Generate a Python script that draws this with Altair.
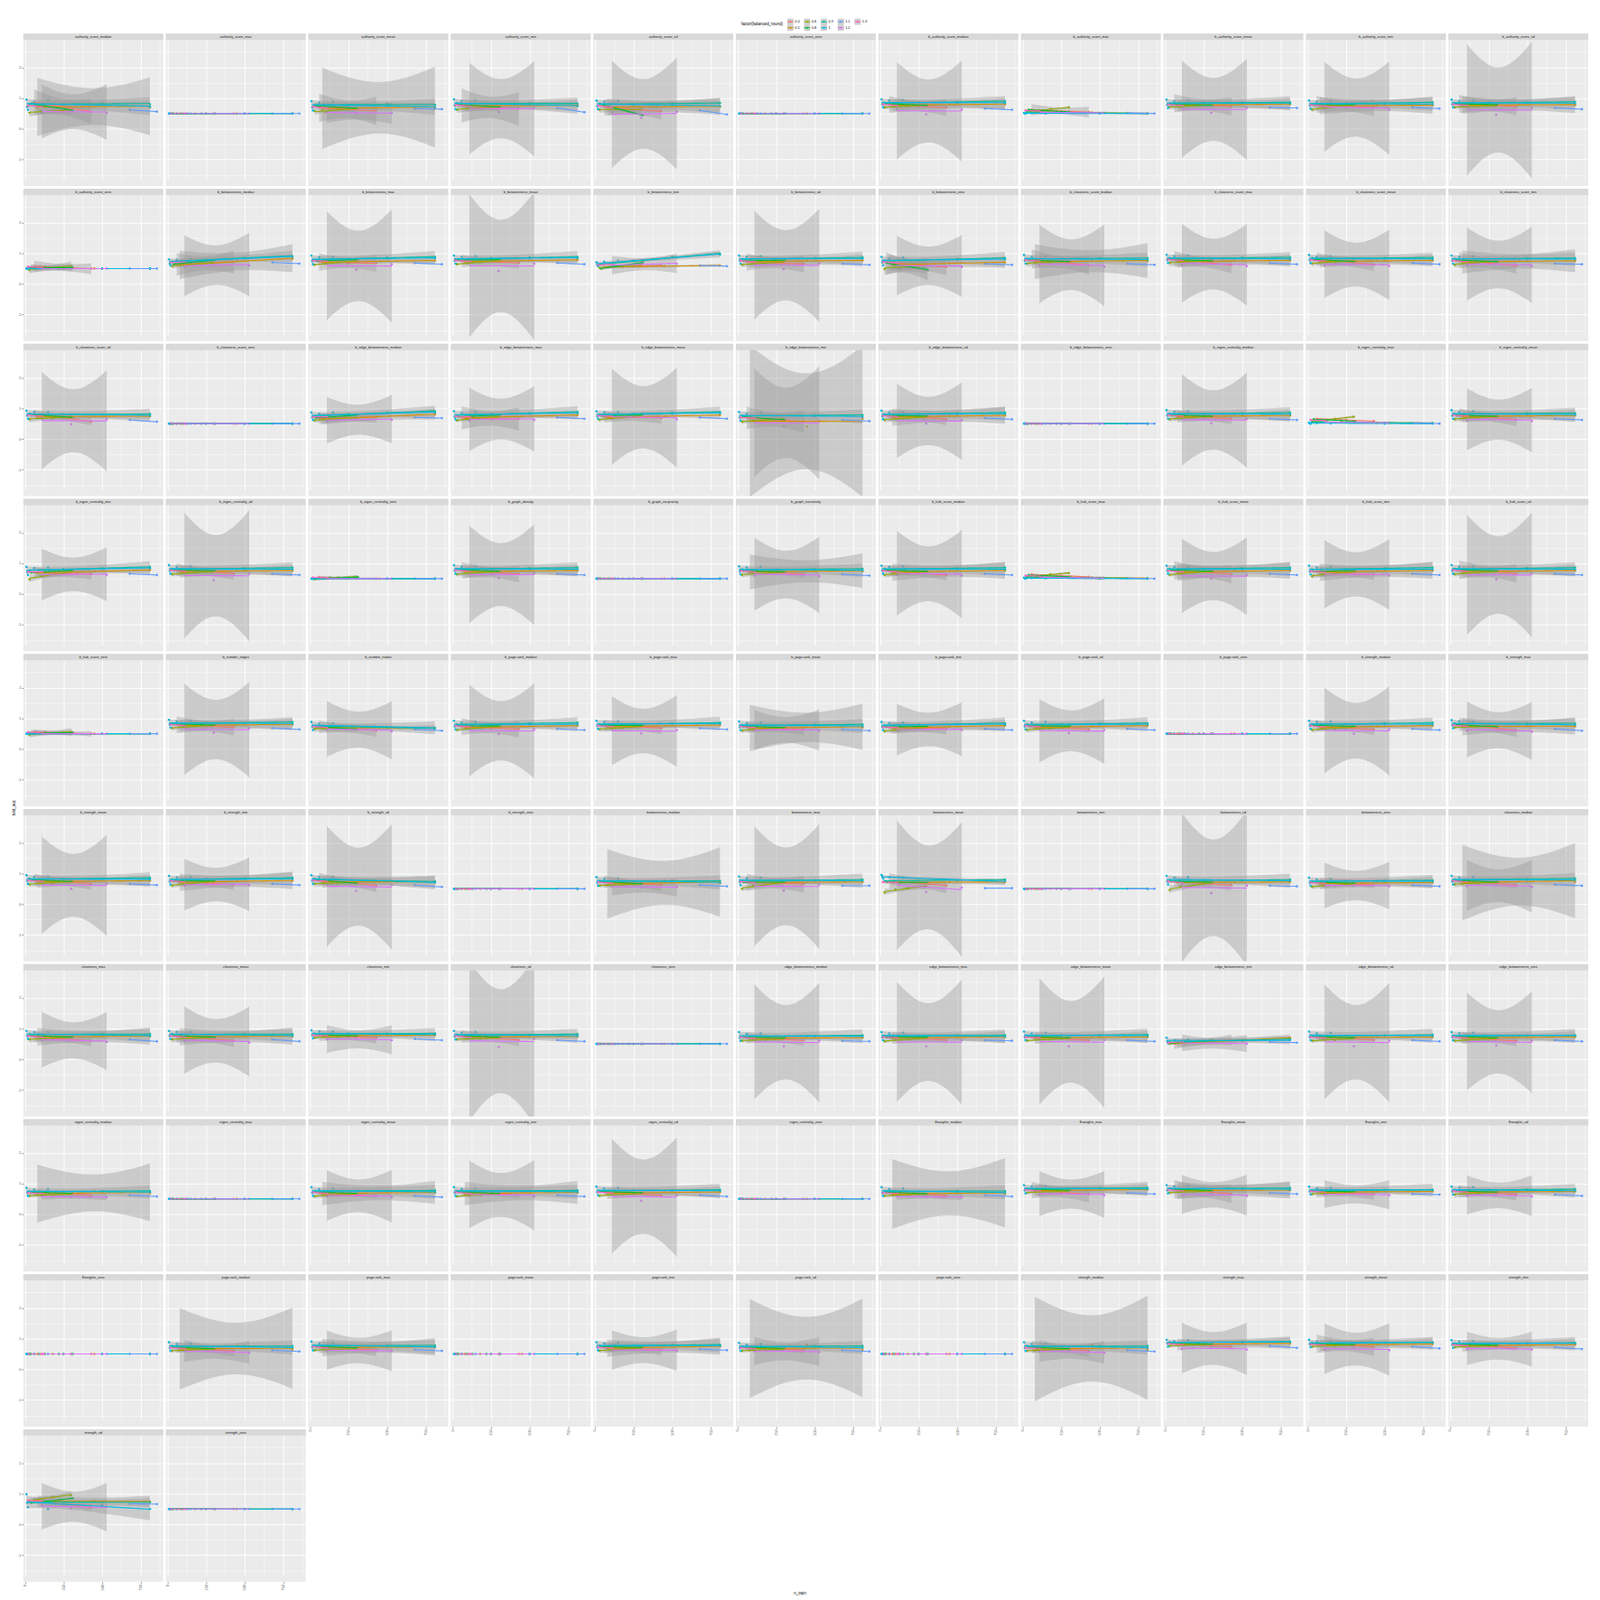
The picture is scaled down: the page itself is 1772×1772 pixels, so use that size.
import altair as alt
import numpy as np
import pandas as pd

alt.data_transformers.disable_max_rows()

# facet panels, in facet_wrap order (11 per row)
FEATURES = [
    "authority_score_median", "authority_score_max", "authority_score_mean", "authority_score_min",
    "authority_score_sd", "authority_score_zero", "b_authority_score_median", "b_authority_score_max",
    "b_authority_score_mean", "b_authority_score_min", "b_authority_score_sd",
    "b_authority_score_zero", "b_betweenness_median", "b_betweenness_max", "b_betweenness_mean",
    "b_betweenness_min", "b_betweenness_sd", "b_betweenness_zero", "b_closeness_score_median",
    "b_closeness_score_max", "b_closeness_score_mean", "b_closeness_score_min",
    "b_closeness_score_sd", "b_closeness_score_zero", "b_edge_betweenness_median",
    "b_edge_betweenness_max", "b_edge_betweenness_mean", "b_edge_betweenness_min",
    "b_edge_betweenness_sd", "b_edge_betweenness_zero", "b_eigen_centrality_median",
    "b_eigen_centrality_max", "b_eigen_centrality_mean",
    "b_eigen_centrality_min", "b_eigen_centrality_sd", "b_eigen_centrality_zero", "b_graph_density",
    "b_graph_reciprocity", "b_graph_transitivity", "b_hub_score_median", "b_hub_score_max",
    "b_hub_score_mean", "b_hub_score_min", "b_hub_score_sd",
    "b_hub_score_zero", "b_number_edges", "b_number_nodes", "b_page.rank_median", "b_page.rank_max",
    "b_page.rank_mean", "b_page.rank_min", "b_page.rank_sd", "b_page.rank_zero", "b_strength_median",
    "b_strength_max",
    "b_strength_mean", "b_strength_min", "b_strength_sd", "b_strength_zero", "betweenness_median",
    "betweenness_max", "betweenness_mean", "betweenness_min", "betweenness_sd", "betweenness_zero",
    "closeness_median",
    "closeness_max", "closeness_mean", "closeness_min", "closeness_sd", "closeness_zero",
    "edge_betweenness_median", "edge_betweenness_max", "edge_betweenness_mean", "edge_betweenness_min",
    "edge_betweenness_sd", "edge_betweenness_zero",
    "eigen_centrality_median", "eigen_centrality_max", "eigen_centrality_mean", "eigen_centrality_min",
    "eigen_centrality_sd", "eigen_centrality_zero", "Eweights_median", "Eweights_max", "Eweights_mean",
    "Eweights_min", "Eweights_sd",
    "Eweights_zero", "page.rank_median", "page.rank_max", "page.rank_mean", "page.rank_min",
    "page.rank_sd", "page.rank_zero", "strength_median", "strength_max", "strength_mean",
    "strength_min",
    "strength_sd", "strength_zero",
]

ROUNDS = ["0.4", "0.5", "0.6", "0.8", "0.9", "1", "1.1", "1.2", "1.3"]
COLOURS = ["#F8766D", "#D39200", "#93AA00", "#00BA38", "#00C19F", "#00B9E3", "#619CFF", "#DB72FB", "#FF61C3"]

# n_train of each balanced_round group (same in every panel)
N_04 = [60, 250, 430]
N_05 = [80, 450, 810]
N_06 = [30, 100, 180, 300]
N_08 = [40, 130, 220, 310]
N_09 = [30, 90, 250, 500, 810]
N_10 = [10, 15, 20, 60, 150, 500, 810]
N_11 = [680, 855]
N_12 = [110, 300, 530]
N_13 = [20, 120]

# test_auc x 100, one entry per panel (rows of the facet grid)
AUC_04 = [
    [85, 74, 55], [50, 50, 50], [70, 60, 60], [78, 66, 66], [72, 62, 58], [50, 50, 50], [80, 72, 70], [63, 57, 55], [82, 80, 72], [80, 72, 70], [80, 79, 72],
    [58, 52, 50], [62, 70, 70], [72, 67, 68], [74, 73, 68], [55, 58, 60], [72, 66, 66], [70, 60, 56], [80, 73, 60], [82, 69, 62], [80, 73, 62], [78, 66, 60],
    [82, 70, 56], [50, 50, 50], [66, 70, 70], [70, 64, 66], [72, 72, 68], [70, 60, 58], [76, 72, 64], [50, 50, 50], [78, 70, 66], [66, 62, 58], [78, 72, 62],
    [70, 66, 66], [78, 74, 66], [55, 52, 50], [78, 69, 66], [50, 50, 50], [74, 70, 64], [76, 67, 62], [64, 60, 56], [76, 73, 64], [74, 67, 64], [78, 75, 66],
    [56, 52, 50], [80, 73, 72], [72, 68, 60], [74, 67, 66], [76, 74, 68], [72, 66, 64], [70, 70, 66], [74, 70, 64], [50, 50, 50], [76, 68, 64], [80, 72, 60],
    [78, 74, 66], [76, 68, 64], [80, 72, 60], [50, 50, 50], [72, 69, 62], [72, 66, 66], [75, 70, 60], [50, 50, 50], [74, 66, 62], [70, 67, 62], [76, 70, 62],
    [74, 65, 60], [74, 69, 60], [78, 72, 70], [74, 70, 62], [50, 50, 50], [70, 64, 62], [72, 68, 62], [72, 66, 62], [50, 58, 62], [72, 68, 62], [72, 64, 60],
    [70, 67, 62], [50, 50, 50], [70, 64, 60], [72, 68, 62], [72, 66, 62], [50, 50, 50], [72, 67, 60], [80, 70, 66], [80, 76, 66], [74, 68, 66], [74, 71, 64],
    [50, 50, 50], [72, 64, 60], [72, 69, 62], [50, 50, 50], [72, 66, 64], [70, 67, 62], [50, 50, 50], [72, 68, 60], [84, 78, 74], [82, 80, 72], [80, 74, 70],
    [80, 66, 55], [50, 50, 50],
]
AUC_05 = [
    [68, 79, 70], [50, 50, 50], [62, 78, 66], [74, 77, 76], [70, 74, 72], [50, 50, 50], [76, 80, 80], [55, 53, 50], [76, 80, 80], [74, 78, 76], [76, 80, 78],
    [50, 50, 50], [60, 76, 82], [70, 74, 76], [72, 76, 78], [55, 58, 60], [72, 76, 76], [62, 68, 70], [70, 78, 74], [72, 76, 76], [72, 76, 76], [70, 76, 74],
    [72, 74, 74], [50, 50, 50], [64, 74, 80], [68, 74, 78], [70, 74, 78], [66, 40, 66], [70, 76, 76], [50, 50, 50], [72, 76, 76], [55, 53, 52], [72, 76, 76],
    [68, 74, 78], [72, 76, 76], [50, 50, 50], [72, 76, 76], [50, 50, 50], [70, 78, 74], [70, 76, 76], [56, 54, 52], [70, 76, 76], [70, 76, 76], [72, 76, 76],
    [50, 50, 50], [76, 80, 80], [70, 70, 68], [70, 74, 76], [72, 76, 78], [66, 76, 70], [68, 74, 76], [70, 74, 76], [50, 50, 50], [70, 74, 76], [72, 76, 74],
    [72, 76, 76], [70, 76, 76], [72, 74, 72], [50, 50, 50], [62, 77, 68], [70, 72, 72], [70, 72, 72], [50, 50, 50], [70, 72, 72], [66, 70, 70], [66, 82, 72],
    [72, 76, 74], [72, 76, 74], [76, 78, 78], [72, 74, 74], [50, 50, 50], [68, 70, 70], [68, 72, 72], [68, 72, 72], [52, 60, 70], [70, 72, 72], [68, 72, 72],
    [64, 76, 68], [50, 50, 50], [66, 72, 70], [66, 72, 70], [68, 72, 72], [50, 50, 50], [62, 76, 66], [76, 80, 80], [76, 80, 78], [72, 74, 74], [72, 74, 74],
    [50, 50, 50], [62, 77, 64], [70, 74, 72], [50, 50, 50], [68, 74, 74], [62, 80, 64], [50, 50, 50], [60, 80, 64], [80, 84, 84], [78, 82, 82], [76, 80, 80],
    [74, 76, 74], [50, 50, 50],
]
AUC_06 = [
    [52, 60, 55, 62], [50, 50, 50, 50], [58, 55, 62, 66], [62, 70, 66, 72], [62, 66, 60, 64], [50, 50, 50, 50], [70, 74, 72, 78], [55, 60, 64, 70], [72, 70, 76, 78], [62, 70, 72, 78], [70, 74, 72, 76],
    [45, 55, 52, 58], [58, 64, 62, 70], [62, 66, 70, 74], [64, 68, 70, 76], [52, 58, 56, 62], [62, 68, 66, 72], [48, 62, 52, 60], [66, 72, 68, 74], [68, 74, 70, 78], [66, 72, 70, 76], [62, 70, 68, 74],
    [64, 70, 66, 72], [50, 50, 50, 50], [60, 66, 64, 70], [60, 66, 68, 72], [62, 68, 70, 74], [56, 62, 60, 66], [62, 68, 66, 72], [50, 50, 50, 50], [64, 70, 68, 74], [56, 62, 66, 72], [64, 70, 68, 74],
    [48, 60, 64, 72], [64, 70, 68, 74], [48, 52, 54, 56], [64, 70, 68, 74], [50, 50, 50, 50], [62, 68, 66, 72], [62, 68, 66, 74], [55, 60, 64, 68], [62, 68, 68, 74], [58, 66, 66, 72], [64, 70, 68, 74],
    [46, 54, 52, 56], [68, 74, 72, 78], [66, 70, 64, 68], [62, 68, 68, 74], [64, 70, 68, 74], [60, 66, 64, 70], [58, 64, 64, 70], [62, 68, 66, 72], [50, 50, 50, 50], [62, 68, 66, 72], [70, 74, 72, 76],
    [64, 70, 68, 74], [60, 68, 68, 74], [66, 70, 66, 72], [50, 50, 50, 50], [60, 64, 62, 66], [50, 60, 64, 70], [38, 48, 52, 58], [50, 50, 50, 50], [46, 58, 62, 68], [56, 62, 60, 66], [64, 70, 66, 72],
    [64, 70, 66, 72], [64, 70, 66, 72], [70, 74, 72, 76], [64, 68, 66, 70], [50, 50, 50, 50], [60, 64, 62, 66], [58, 64, 64, 68], [60, 64, 64, 68], [50, 54, 56, 60], [60, 64, 62, 68], [60, 64, 62, 68],
    [60, 64, 62, 66], [50, 50, 50, 50], [58, 64, 62, 66], [58, 62, 62, 66], [60, 64, 64, 68], [50, 50, 50, 50], [60, 64, 62, 66], [70, 74, 72, 76], [70, 74, 72, 76], [66, 70, 68, 72], [64, 70, 66, 72],
    [50, 50, 50, 50], [60, 64, 62, 66], [62, 66, 64, 68], [50, 50, 50, 50], [60, 66, 64, 70], [60, 64, 62, 66], [50, 50, 50, 50], [60, 64, 62, 66], [76, 80, 78, 82], [74, 78, 76, 80], [72, 76, 74, 78],
    [75, 84, 90, 95], [50, 50, 50, 50],
]
AUC_08 = [
    [82, 72, 70, 60], [50, 50, 50, 50], [75, 70, 72, 66], [80, 74, 76, 70], [80, 68, 55, 45], [50, 50, 50, 50], [82, 80, 78, 76], [62, 60, 58, 55], [80, 78, 80, 76], [78, 80, 76, 80], [82, 80, 78, 80],
    [52, 56, 50, 54], [64, 70, 72, 78], [76, 74, 78, 80], [78, 76, 78, 80], [50, 58, 62, 70], [76, 74, 76, 78], [72, 50, 62, 45], [78, 74, 76, 72], [80, 76, 78, 74], [80, 76, 76, 72], [78, 74, 76, 72],
    [80, 76, 74, 70], [50, 50, 50, 50], [68, 72, 74, 78], [72, 74, 76, 78], [76, 74, 76, 80], [72, 68, 66, 62], [78, 74, 74, 76], [50, 50, 50, 50], [78, 76, 76, 74], [64, 62, 60, 58], [78, 74, 76, 74],
    [70, 72, 74, 78], [78, 76, 76, 76], [50, 54, 52, 55], [80, 76, 76, 74], [50, 50, 50, 50], [76, 74, 74, 72], [78, 74, 76, 74], [62, 60, 58, 56], [78, 76, 76, 74], [74, 74, 76, 76], [80, 76, 76, 76],
    [52, 55, 50, 54], [82, 80, 80, 78], [74, 70, 68, 64], [76, 74, 76, 76], [78, 76, 76, 78], [74, 72, 72, 70], [72, 72, 74, 74], [76, 74, 74, 76], [50, 50, 50, 50], [78, 74, 76, 74], [80, 76, 76, 72],
    [80, 76, 76, 74], [76, 74, 76, 76], [80, 74, 72, 68], [50, 50, 50, 50], [74, 70, 70, 66], [72, 70, 72, 72], [72, 70, 70, 72], [50, 50, 50, 50], [74, 72, 72, 72], [72, 70, 70, 68], [78, 74, 74, 72],
    [78, 74, 74, 72], [78, 74, 74, 72], [80, 78, 78, 76], [76, 74, 74, 72], [50, 50, 50, 50], [72, 70, 70, 70], [72, 70, 72, 72], [74, 72, 72, 70], [52, 56, 58, 62], [74, 70, 72, 70], [74, 70, 72, 70],
    [72, 70, 70, 68], [50, 50, 50, 50], [72, 70, 70, 68], [72, 70, 70, 68], [74, 72, 72, 70], [50, 50, 50, 50], [72, 70, 70, 66], [82, 80, 80, 78], [82, 80, 78, 78], [76, 74, 74, 74], [76, 74, 74, 72],
    [50, 50, 50, 50], [72, 70, 70, 66], [74, 72, 72, 70], [50, 50, 50, 50], [74, 72, 72, 72], [72, 70, 70, 68], [50, 50, 50, 50], [72, 70, 70, 66], [86, 84, 84, 82], [84, 82, 82, 80], [82, 80, 80, 78],
    [70, 74, 80, 85], [50, 50, 50, 50],
]
AUC_09 = [
    [80, 78, 82, 85, 80], [50] * 5, [78, 80, 76, 82, 78], [84, 80, 82, 84, 82], [82, 80, 78, 84, 84], [50] * 5, [84, 82, 86, 88, 90], [55, 54, 53, 52, 50], [82, 84, 84, 86, 86], [80, 82, 84, 84, 86], [84, 82, 86, 86, 88],
    [50] * 5, [72, 74, 80, 86, 90], [78, 80, 82, 86, 88], [80, 80, 84, 86, 88], [62, 66, 75, 88, 98], [80, 80, 82, 84, 86], [76, 74, 78, 82, 84], [82, 80, 82, 84, 84], [84, 82, 84, 86, 86], [84, 82, 84, 84, 86], [82, 80, 82, 84, 84],
    [82, 80, 80, 80, 82], [50] * 5, [74, 76, 82, 86, 90], [76, 78, 82, 84, 88], [78, 80, 82, 86, 88], [76, 74, 76, 78, 78], [80, 80, 82, 84, 86], [50] * 5, [82, 80, 82, 84, 86], [56, 55, 54, 53, 52], [82, 80, 82, 84, 84],
    [76, 78, 82, 84, 88], [82, 80, 82, 84, 86], [50] * 5, [82, 80, 82, 84, 86], [50] * 5, [80, 78, 80, 82, 82], [82, 80, 82, 84, 86], [56, 55, 54, 52, 51], [82, 80, 82, 84, 86], [80, 80, 82, 84, 86], [82, 80, 82, 84, 86],
    [50] * 5, [84, 82, 86, 86, 88], [76, 74, 72, 70, 68], [80, 80, 82, 84, 86], [80, 80, 82, 84, 86], [78, 76, 78, 80, 80], [76, 78, 80, 82, 84], [80, 78, 82, 84, 84], [50] * 5, [80, 80, 82, 84, 86], [84, 82, 82, 84, 84],
    [82, 80, 82, 84, 86], [80, 80, 82, 84, 86], [82, 80, 78, 76, 74], [50] * 5, [76, 74, 74, 76, 76], [76, 76, 78, 78, 80], [76, 76, 78, 78, 80], [50] * 5, [78, 76, 78, 78, 80], [74, 74, 76, 76, 78], [80, 78, 80, 82, 84],
    [82, 80, 80, 82, 82], [82, 80, 80, 82, 82], [84, 82, 84, 84, 84], [80, 78, 80, 80, 82], [50] * 5, [74, 74, 76, 76, 78], [76, 74, 76, 78, 78], [76, 76, 78, 78, 80], [56, 56, 58, 62, 66], [76, 76, 76, 78, 80], [76, 74, 76, 78, 78],
    [74, 74, 74, 76, 76], [50] * 5, [76, 74, 76, 76, 78], [76, 74, 76, 76, 78], [76, 76, 78, 78, 80], [50] * 5, [76, 74, 74, 76, 76], [84, 82, 84, 86, 86], [84, 82, 84, 84, 86], [78, 78, 78, 80, 80], [80, 78, 80, 80, 82],
    [50] * 5, [76, 74, 74, 76, 76], [78, 76, 76, 78, 78], [50] * 5, [76, 76, 78, 80, 80], [74, 74, 74, 76, 76], [50] * 5, [76, 74, 74, 76, 76], [88, 86, 88, 90, 90], [86, 84, 86, 88, 88], [84, 82, 84, 86, 86],
    [72, 74, 72, 72, 72], [50] * 5,
]
AUC_10 = [
    [95, 72, 62, 88, 94, 76, 72], [50] * 7, [90, 70, 60, 85, 88, 74, 70], [96, 76, 64, 90, 92, 78, 74], [92, 74, 64, 88, 90, 76, 74], [50] * 7, [96, 80, 70, 92, 94, 84, 84], [52, 50, 50, 51, 50, 50, 50], [95, 78, 68, 90, 92, 84, 82], [92, 76, 66, 88, 90, 80, 80], [95, 80, 70, 90, 92, 84, 82],
    [50] * 7, [80, 66, 60, 78, 82, 84, 88], [92, 74, 64, 86, 88, 82, 84], [92, 76, 66, 88, 90, 84, 84], [70, 62, 58, 72, 75, 88, 95], [92, 76, 66, 88, 90, 82, 82], [88, 70, 60, 82, 86, 78, 80], [94, 76, 66, 88, 90, 80, 78], [95, 78, 68, 90, 92, 82, 80], [94, 78, 68, 88, 90, 82, 80], [92, 76, 66, 88, 90, 80, 80],
    [92, 76, 66, 88, 88, 78, 76], [50] * 7, [86, 70, 62, 82, 86, 84, 86], [90, 72, 64, 84, 88, 82, 84], [90, 74, 66, 86, 88, 82, 84], [88, 70, 60, 82, 84, 74, 72], [92, 74, 64, 86, 88, 80, 82], [50] * 7, [94, 76, 66, 88, 90, 80, 80], [53, 51, 50, 52, 51, 50, 50], [94, 76, 66, 88, 90, 80, 78],
    [88, 72, 62, 84, 86, 82, 84], [94, 76, 66, 88, 90, 80, 80], [50] * 7, [94, 76, 66, 88, 90, 80, 80], [50] * 7, [90, 74, 64, 86, 88, 78, 76], [92, 76, 66, 88, 90, 80, 80], [53, 51, 50, 52, 51, 50, 50], [92, 76, 66, 88, 90, 80, 80], [92, 74, 64, 86, 88, 80, 80], [94, 76, 66, 88, 90, 80, 80],
    [50] * 7, [95, 80, 70, 90, 92, 84, 82], [88, 72, 62, 82, 84, 72, 68], [92, 74, 64, 86, 88, 80, 80], [92, 76, 66, 88, 90, 82, 82], [90, 72, 62, 84, 86, 76, 74], [88, 72, 62, 84, 86, 80, 80], [92, 74, 64, 86, 88, 80, 80], [50] * 7, [92, 76, 66, 88, 90, 80, 80], [94, 78, 68, 90, 90, 80, 78],
    [94, 76, 66, 88, 90, 80, 80], [92, 74, 64, 86, 88, 80, 82], [94, 76, 66, 88, 88, 74, 70], [50] * 7, [88, 70, 60, 82, 84, 72, 70], [90, 72, 62, 84, 86, 76, 76], [95, 90, 84, 88, 86, 76, 76], [50] * 7, [92, 74, 64, 86, 88, 76, 76], [86, 70, 60, 80, 82, 74, 74], [92, 74, 64, 86, 88, 78, 78],
    [92, 76, 66, 88, 88, 78, 76], [92, 76, 66, 88, 88, 78, 76], [94, 78, 68, 90, 90, 80, 80], [92, 74, 64, 86, 88, 76, 76], [50] * 7, [88, 70, 60, 82, 84, 74, 74], [88, 72, 62, 84, 86, 74, 74], [90, 72, 62, 84, 86, 76, 76], [70, 58, 52, 62, 64, 60, 62], [90, 72, 62, 84, 86, 76, 76], [88, 72, 62, 84, 86, 76, 76],
    [86, 70, 60, 80, 82, 72, 72], [50] * 7, [88, 70, 60, 82, 84, 74, 72], [88, 70, 60, 82, 84, 74, 72], [90, 72, 62, 84, 86, 76, 76], [50] * 7, [88, 70, 60, 82, 84, 72, 70], [95, 78, 68, 90, 92, 82, 82], [95, 78, 68, 90, 92, 82, 80], [90, 74, 64, 84, 86, 78, 78], [90, 74, 64, 86, 88, 76, 76],
    [50] * 7, [88, 70, 60, 82, 84, 72, 70], [90, 72, 62, 84, 86, 74, 72], [50] * 7, [88, 72, 62, 84, 86, 76, 76], [86, 70, 60, 80, 82, 72, 70], [50] * 7, [88, 70, 60, 82, 84, 72, 70], [96, 84, 74, 92, 94, 88, 88], [96, 82, 72, 90, 92, 86, 86], [95, 80, 70, 90, 92, 84, 84],
    [98, 70, 56, 80, 50, 62, 50], [50] * 7,
]
AUC_11 = [
    [62, 56], [50, 50], [66, 64], [68, 54], [60, 47], [50, 50], [66, 62], [52, 50], [70, 68], [70, 66], [68, 64],
    [50, 50], [70, 66], [68, 64], [68, 64], [60, 58], [66, 62], [66, 62], [66, 62], [68, 64], [68, 64], [66, 64],
    [62, 56], [50, 50], [70, 68], [70, 66], [70, 66], [62, 58], [68, 64], [50, 50], [66, 62], [52, 50], [66, 62],
    [66, 62], [66, 62], [50, 50], [66, 62], [50, 50], [64, 60], [66, 62], [52, 50], [66, 62], [66, 62], [66, 62],
    [50, 50], [68, 64], [64, 60], [66, 62], [68, 64], [64, 60], [66, 62], [66, 62], [50, 50], [66, 62], [66, 60],
    [66, 62], [66, 62], [62, 56], [50, 50], [62, 58], [60, 60], [52, 52], [50, 50], [60, 58], [62, 58], [64, 60],
    [64, 58], [64, 58], [66, 62], [62, 58], [50, 50], [60, 58], [62, 60], [62, 58], [56, 54], [62, 58], [62, 58],
    [62, 58], [50, 50], [60, 56], [62, 58], [62, 58], [50, 50], [62, 58], [70, 66], [70, 66], [66, 64], [64, 60],
    [50, 50], [62, 58], [64, 60], [50, 50], [66, 62], [62, 58], [50, 50], [62, 58], [76, 70], [74, 68], [72, 66],
    [67, 66], [50, 50],
]
AUC_12 = [
    [53, 62, 52], [50, 50, 50], [55, 50, 52], [72, 55, 70], [54, 36, 56], [50, 50, 50], [65, 47, 63], [54, 53, 52], [70, 52, 68], [66, 80, 62], [70, 46, 68],
    [50, 50, 50], [55, 68, 60], [66, 46, 64], [68, 42, 66], [60, 66, 66], [68, 48, 66], [56, 66, 55], [60, 72, 56], [62, 74, 58], [60, 71, 58], [60, 72, 58],
    [66, 48, 64], [50, 50, 50], [58, 68, 62], [60, 72, 62], [66, 82, 64], [60, 40, 58], [64, 50, 62], [50, 50, 50], [68, 51, 66], [55, 54, 53], [60, 70, 58],
    [60, 70, 62], [68, 45, 66], [50, 50, 50], [70, 52, 68], [50, 50, 50], [60, 72, 58], [62, 76, 60], [55, 53, 52], [64, 50, 62], [60, 72, 60], [70, 48, 68],
    [50, 50, 50], [70, 53, 68], [62, 70, 58], [66, 49, 64], [64, 51, 62], [60, 67, 60], [60, 70, 62], [64, 52, 62], [50, 50, 50], [66, 50, 64], [60, 68, 56],
    [68, 50, 66], [60, 70, 62], [66, 43, 62], [50, 50, 50], [58, 54, 56], [66, 44, 64], [70, 40, 54], [50, 50, 50], [64, 36, 60], [58, 66, 58], [58, 66, 56],
    [60, 68, 56], [58, 68, 54], [64, 68, 62], [70, 40, 66], [50, 50, 50], [64, 42, 60], [64, 42, 62], [66, 42, 62], [52, 54, 50], [64, 42, 60], [64, 45, 60],
    [58, 56, 56], [50, 50, 50], [58, 66, 56], [60, 71, 58], [66, 44, 62], [50, 50, 50], [58, 56, 56], [64, 71, 62], [62, 68, 60], [64, 68, 62], [60, 66, 58],
    [50, 50, 50], [58, 60, 54], [60, 66, 58], [50, 50, 50], [60, 67, 60], [58, 62, 56], [50, 50, 50], [58, 60, 54], [66, 74, 64], [64, 72, 62], [66, 71, 64],
    [62, 52, 58], [50, 50, 50],
]
AUC_13 = [
    [76, 72], [50, 50], [72, 68], [78, 74], [76, 70], [50, 50], [80, 76], [60, 58], [80, 76], [78, 74], [80, 76],
    [56, 52], [70, 72], [76, 74], [76, 74], [62, 64], [76, 72], [72, 68], [78, 74], [80, 76], [78, 74], [76, 72],
    [78, 74], [50, 50], [72, 72], [74, 72], [76, 74], [70, 68], [76, 72], [50, 50], [78, 74], [62, 60], [78, 74],
    [72, 72], [78, 74], [54, 52], [78, 74], [50, 50], [76, 72], [76, 72], [60, 58], [76, 72], [74, 72], [78, 74],
    [55, 52], [80, 76], [74, 70], [76, 72], [76, 74], [74, 70], [72, 70], [76, 72], [50, 50], [76, 72], [78, 74],
    [78, 74], [76, 72], [78, 74], [50, 50], [72, 68], [74, 70], [72, 70], [50, 50], [74, 70], [70, 68], [76, 72],
    [76, 72], [76, 72], [78, 76], [76, 72], [50, 50], [72, 68], [72, 70], [72, 70], [54, 56], [72, 70], [72, 70],
    [70, 68], [50, 50], [72, 68], [72, 68], [72, 70], [50, 50], [70, 68], [80, 76], [80, 76], [76, 72], [76, 72],
    [50, 50], [70, 68], [74, 70], [50, 50], [72, 70], [70, 68], [50, 50], [70, 68], [84, 80], [82, 78], [80, 76],
    [78, 74], [50, 50],
]

N_TRAIN = dict(zip(ROUNDS, [N_04, N_05, N_06, N_08, N_09, N_10, N_11, N_12, N_13]))
AUC = dict(zip(ROUNDS, [AUC_04, AUC_05, AUC_06, AUC_08, AUC_09, AUC_10, AUC_11, AUC_12, AUC_13]))
assert all(len(v) == len(FEATURES) for v in AUC.values())

# 97.5% t quantiles for the lm confidence band (df = n - 2)
T975 = {1: 12.706, 2: 4.303, 3: 3.182, 4: 2.776, 5: 2.571}
GRID = 25

records = []
for i, feat in enumerate(FEATURES):
    records.append({"feature": feat, "kind": "strip"})
    for r in ROUNDS:
        x = np.asarray(N_TRAIN[r], float)
        y = np.asarray(AUC[r][i], float) / 100
        for xv, yv in zip(x, y):
            records.append({"feature": feat, "round": r, "kind": "pt", "n": xv, "auc": yv})
        # geom_smooth(method = "lm")
        slope, icpt = np.polyfit(x, y, 1)
        xg = np.linspace(x.min(), x.max(), GRID)
        fit = icpt + slope * xg
        if len(x) > 2:
            res = y - (icpt + slope * x)
            s = np.sqrt(np.sum(res ** 2) / (len(x) - 2))
            sxx = np.sum((x - x.mean()) ** 2)
            half = T975[len(x) - 2] * s * np.sqrt(1 / len(x) + (xg - x.mean()) ** 2 / sxx)
        else:
            half = np.full(GRID, np.nan)
        for a, b, h in zip(xg, fit, half):
            records.append({"feature": feat, "round": r, "kind": "fit", "n": round(a, 2),
                            "fit": round(b, 4), "lo": round(b - h, 4), "hi": round(b + h, 4)})
df = pd.DataFrame(records)

FONT = "Liberation Sans"
W, H, STRIP = 156, 170, 7
NCOL = 11
GRID_H = 10 * H + 9 * 3
X_GRID = [0, 125, 250, 375, 500, 625, 750, 875]
Y_GRID = [-1.5, -1, -0.5, 0, 0.5, 1, 1.5, 2, 2.5]

x_scale = alt.Scale(domain=[-10, 896], nice=False, zero=False)
y_scale = alt.Scale(domain=[-1.86, 2.89], nice=False, zero=False, range=[H, STRIP])
colour_scale = alt.Scale(domain=ROUNDS, range=COLOURS)


def make_axis(values, major, show):
    test = f"datum.value % {major} === 0"
    common = dict(
        values=values, title=None, domain=False, gridColor="white",
        gridWidth=alt.condition(test, alt.value(0.9), alt.value(0.45)),
    )
    if not show:
        return alt.Axis(labels=False, ticks=False, **common)
    return alt.Axis(
        labelOverlap=False, labelExpr=f"{test} ? '' + datum.value : ''",
        labelFontSize=3.8, labelColor="#4D4D4D", labelPadding=1,
        tickSize=2, tickWidth=0.5,
        tickColor=alt.condition(test, alt.value("#333333"), alt.value("transparent")),
        **common,
    )


def make_panel(sub, show_x, show_y):
    x_axis = make_axis(X_GRID, 250, show_x)
    if show_x:
        x_axis = x_axis.copy()
        x_axis.labelAngle = 270
        x_axis.labelAlign = "right"
        x_axis.labelBaseline = "middle"
    y_axis = make_axis(Y_GRID, 1, show_y)
    x_enc = alt.X("n:Q", scale=x_scale, axis=x_axis, title=None)
    colour = alt.Color("round:N", scale=colour_scale, legend=None)

    pts = alt.Chart().mark_circle(size=7, opacity=1, clip=True).encode(
        x=x_enc, y=alt.Y("auc:Q", scale=y_scale, axis=y_axis, title=None), color=colour,
    ).transform_filter("datum.kind == 'pt'")
    band = alt.Chart().mark_area(color="#999999", opacity=0.4, clip=True).encode(
        x=x_enc, y=alt.Y("lo:Q", scale=y_scale, axis=y_axis, title=None, stack=None),
        y2="hi:Q", detail="round:N",
    ).transform_filter("datum.kind == 'fit'")
    line = alt.Chart().mark_line(strokeWidth=1.1, clip=True).encode(
        x=x_enc, y=alt.Y("fit:Q", scale=y_scale, axis=y_axis, title=None), color=colour,
    ).transform_filter("datum.kind == 'fit'")
    strip_bg = alt.Chart().mark_rect(color="#D9D9D9").encode(
        x=alt.value(0), x2=alt.value(W), y=alt.value(0), y2=alt.value(STRIP),
    ).transform_filter("datum.kind == 'strip'")
    strip_txt = alt.Chart().mark_text(fontSize=3.8, color="#1A1A1A", baseline="middle").encode(
        x=alt.value(W / 2), y=alt.value(STRIP / 2 + 0.3), text="feature:N",
    ).transform_filter("datum.kind == 'strip'")
    return alt.layer(pts, band, line, strip_bg, strip_txt, data=sub).properties(
        width=W, height=H, view=alt.ViewBackground(fill="#EBEBEB", stroke=None)
    )


panels = []
for i, feat in enumerate(FEATURES):
    row, col = divmod(i, NCOL)
    last_row = (len(FEATURES) - 1 - col) // NCOL   # bottom-most panel of this column
    sub = df[df["feature"] == feat].reset_index(drop=True)
    panels.append(make_panel(sub, row == last_row, col == 0))

grid = alt.concat(*panels, columns=NCOL, spacing=3, bounds="flush")

ylab = alt.Chart(pd.DataFrame({"t": ["test_auc"]})).mark_text(
    angle=270, fontSize=4.5, color="black"
).encode(text="t:N", x=alt.value(2), y=alt.value(GRID_H / 2)).properties(width=4, height=GRID_H)

# legend: ggplot draws it column-wise, 2 rows, grey keys with line + point
leg_df = pd.DataFrame({
    "round": ROUNDS,
    "col": [i // 2 for i in range(len(ROUNDS))],
    "row": [i % 2 for i in range(len(ROUNDS))],
})
leg_x = alt.X("col:Q", scale=alt.Scale(domain=[-3.4, 4.6], nice=False, zero=False), axis=None)
leg_y = alt.Y("row:Q", scale=alt.Scale(domain=[-0.7, 1.7], nice=False, zero=False, reverse=True), axis=None)
leg_base = alt.Chart(leg_df).encode(x=leg_x, y=leg_y)
leg_keys = leg_base.mark_square(size=46, color="#CCCCCC", opacity=1)
leg_lines = leg_base.mark_point(shape="stroke", size=46, strokeWidth=1, opacity=1).encode(
    color=alt.Color("round:N", scale=colour_scale, legend=None))
leg_dots = leg_base.mark_circle(size=4, opacity=1).encode(
    color=alt.Color("round:N", scale=colour_scale, legend=None))
leg_text = leg_base.mark_text(align="left", dx=5, fontSize=3.8, color="black").encode(text="round:N")
leg_title = alt.Chart(pd.DataFrame({"t": ["factor(balanced_round)"], "col": [-0.45], "row": [0.5]})).mark_text(
    align="right", fontSize=4.5, color="black"
).encode(x=leg_x, y=leg_y, text="t:N")
legend_chart = alt.layer(leg_keys, leg_lines, leg_dots, leg_text, leg_title).properties(width=150, height=16)

chart = alt.vconcat(
    legend_chart, alt.hconcat(ylab, grid, spacing=1), spacing=2, center=True
).properties(
    title=alt.TitleParams("n_train", orient="bottom", anchor="middle", fontSize=4.5,
                          fontWeight="normal", color="black", offset=1)
).configure(font=FONT).configure_view(stroke=None)

chart.save("out.html", embed_options={"renderer": "svg", "actions": False})
